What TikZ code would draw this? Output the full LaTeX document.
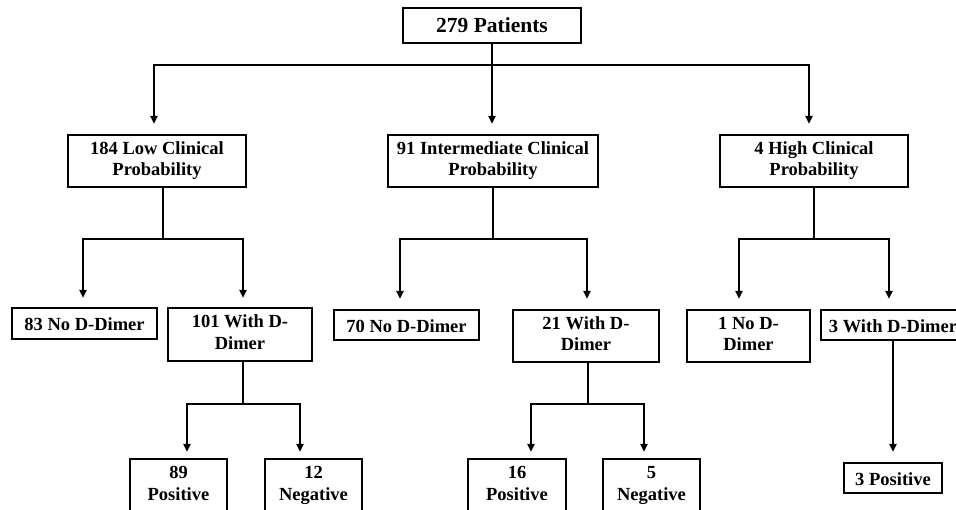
\documentclass[tikz,border=0pt]{standalone}
\usepackage{fontspec}
\setmainfont{Liberation Serif}
\usetikzlibrary{arrows.meta}
\newcommand\boxstrut{\rule[-4.5pt]{0pt}{24pt}}
\begin{document}
\begin{tikzpicture}[x=1pt,y=-1pt,
  box/.style={draw, line width=2.1pt, fill=white, align=center, inner sep=0pt,
    font=\fontsize{18.5}{21.5}\selectfont\bfseries,
    execute at begin node=\boxstrut, execute at end node=\boxstrut},
  ln/.style={line width=2.3pt},
  arr/.style={line width=2.3pt, -{Triangle[length=8pt,width=7pt]}}]
\useasboundingbox (0,0) rectangle (956,510);
\clip (0,0) rectangle (956,510);
\fill[white] (0,0) rectangle (956,510);
% level 1
\node[box, minimum width=178pt, minimum height=35pt, font=\fontsize{21.5}{24}\selectfont\bfseries] (top) at (492,25.5) {279 Patients};
% level 2
\node[box, minimum width=178pt, minimum height=52pt] (low) at (157,161) {184 Low Clinical\\Probability};
\node[box, minimum width=210pt, minimum height=52pt] (inter) at (493,161) {91 Intermediate Clinical\\Probability};
\node[box, minimum width=188pt, minimum height=52pt] (high) at (814,161) {4 High Clinical\\Probability};
% level 3
\node[box, minimum width=145pt, minimum height=31pt] (nd83) at (84.5,323.5) {83 No D-Dimer};
\node[box, minimum width=144pt, minimum height=53pt] (w101) at (240,334.5) {101 With D-\\Dimer};
\node[box, minimum width=145pt, minimum height=30pt] (nd70) at (406.5,325) {70 No D-Dimer};
\node[box, minimum width=146pt, minimum height=52pt] (w21) at (586,336) {21 With D-\\Dimer};
\node[box, minimum width=123pt, minimum height=52pt] (nd1) at (748.5,336) {1 No D-\\Dimer};
\node[box, minimum width=144pt, minimum height=30pt] (w3) at (893,325) {3 With D-Dimer};
% level 4
\node[box, minimum width=97pt, minimum height=53pt] (p89) at (178.5,485.5) {89\\Positive};
\node[box, minimum width=97pt, minimum height=53pt] (n12) at (313.5,485.5) {12\\Negative};
\node[box, minimum width=98pt, minimum height=53pt] (p16) at (517,485.5) {16\\Positive};
\node[box, minimum width=97pt, minimum height=53pt] (n5) at (651.5,485.5) {5\\Negative};
\node[box, minimum width=98pt, minimum height=30pt] (p3) at (893,478) {3 Positive};
% connectors level 1 -> 2
\coordinate (j0) at (492,65);
\coordinate (a1) at (154,65);
\coordinate (a3) at (809,65);
\draw[ln] (top.south) -- (j0);
\draw[arr, shorten >=10pt] (j0) -| (low.north -| a1);
\draw[arr, shorten >=10pt] (j0) -| (high.north -| a3);
\draw[arr, shorten >=10pt] (j0) -- (inter.north -| j0);
% level 2 -> 3
\coordinate (s1) at (163,239);
\coordinate (a11) at (83,239);
\coordinate (a12) at (243,239);
\draw[ln] (low.south -| s1) -- (s1);
\draw[arr, shorten >=9pt] (s1) -| (nd83.north -| a11);
\draw[arr, shorten >=9pt] (s1) -| (w101.north -| a12);
\coordinate (s2) at (493,239);
\coordinate (a21) at (400,239);
\coordinate (a22) at (587,239);
\draw[ln] (inter.south -| s2) -- (s2);
\draw[arr, shorten >=10pt] (s2) -| (nd70.north -| a21);
\draw[arr, shorten >=10pt] (s2) -| (w21.north -| a22);
\coordinate (s3) at (814,239);
\coordinate (a31) at (739,239);
\coordinate (a32) at (889,239);
\draw[ln] (high.south -| s3) -- (s3);
\draw[arr, shorten >=10pt] (s3) -| (nd1.north -| a31);
\draw[arr, shorten >=10pt] (s3) -| (w3.north -| a32);
% level 3 -> 4
\coordinate (s4) at (243,404);
\coordinate (a41) at (187,404);
\coordinate (a42) at (300,404);
\draw[ln] (w101.south -| s4) -- (s4);
\draw[arr, shorten >=6pt] (s4) -| (p89.north -| a41);
\draw[arr, shorten >=6pt] (s4) -| (n12.north -| a42);
\coordinate (s5) at (588,404);
\coordinate (a51) at (531,404);
\coordinate (a52) at (644,404);
\draw[ln] (w21.south -| s5) -- (s5);
\draw[arr, shorten >=6pt] (s5) -| (p16.north -| a51);
\draw[arr, shorten >=6pt] (s5) -| (n5.north -| a52);
\draw[arr, shorten >=10pt] (w3.south) -- (p3.north);
\end{tikzpicture}
\end{document}
